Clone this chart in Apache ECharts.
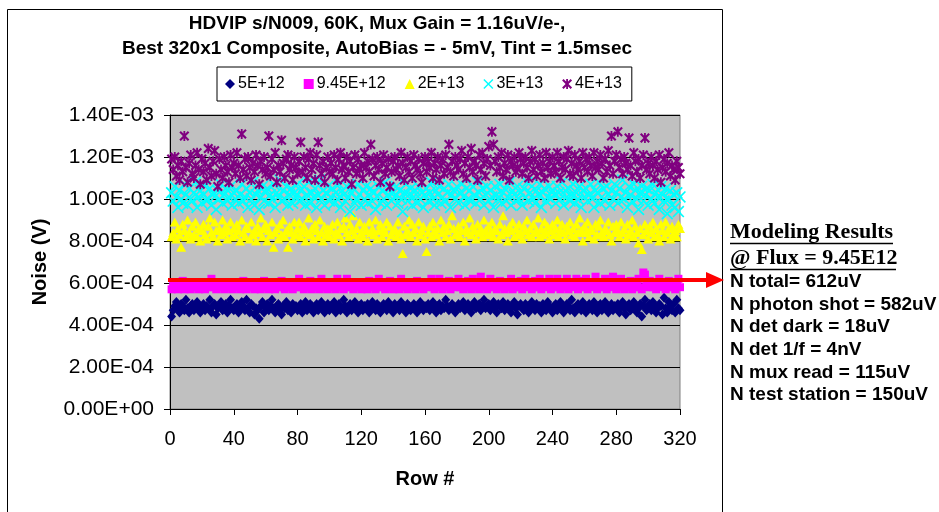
<!DOCTYPE html>
<html>
<head>
<meta charset="utf-8">
<script src="https://cdn.jsdelivr.net/npm/echarts@6.0.0/dist/echarts.min.js"></script>
<style>
    body { margin: 0; background: #fff; }
    #chart { width: 939px; height: 512px; }
</style>
</head>
<body>
<div id="chart"></div>
<script>
    // noise values in units of 1E-04 V, one per row (1..320)
    var noise5e12 = [
        4.4,4.7,4.9,5.1,4.8,4.6,5.0,4.9,4.7,5.2,4.8,4.6,4.9,5.0,4.7,4.8,5.1,4.9,4.6,4.8,
        5.0,4.7,4.9,4.8,5.2,4.6,4.9,5.0,4.5,4.8,4.9,5.1,4.7,4.8,5.0,4.6,4.9,5.2,4.8,4.7,
        4.9,5.0,4.6,4.8,5.1,4.9,4.7,5.2,4.8,4.6,5.0,4.9,4.5,4.8,4.7,4.3,4.9,5.1,4.6,4.8,
        5.0,4.7,4.9,5.2,4.8,4.6,4.9,5.0,4.7,4.5,4.9,4.8,5.1,4.7,4.9,4.6,5.0,4.8,4.9,4.7,
        4.8,5.0,4.6,4.9,5.1,4.7,4.8,5.0,4.9,4.6,4.8,5.0,4.7,4.9,5.1,4.8,4.6,4.9,5.0,4.7,
        4.9,4.8,5.1,4.6,4.9,5.0,4.7,4.8,5.2,4.9,4.6,4.8,5.0,4.7,4.9,5.1,4.8,4.6,4.9,5.0,
        4.7,4.9,4.8,5.0,4.6,4.9,5.1,4.8,4.7,5.0,4.9,4.6,4.8,5.0,4.9,4.7,5.1,4.8,4.9,4.6,
        5.0,4.8,4.9,4.7,5.1,4.9,4.8,4.6,5.0,4.9,4.7,4.8,5.0,4.9,4.6,4.8,5.1,4.9,4.7,4.9,
        4.8,5.0,4.7,4.9,5.1,4.8,4.6,4.9,5.0,4.7,4.9,4.8,5.2,4.9,4.7,4.8,5.0,4.9,4.6,4.8,
        5.0,4.8,4.9,5.1,4.7,4.9,5.0,4.8,4.6,4.9,5.1,4.8,4.9,5.0,4.7,4.9,5.2,4.8,4.9,5.0,
        4.7,4.9,5.1,4.8,4.6,5.0,4.9,4.8,5.1,4.7,4.9,5.0,4.8,4.6,4.9,5.1,4.8,4.5,4.9,5.0,
        4.8,4.7,5.0,4.9,4.6,4.8,5.1,4.9,4.7,5.0,4.8,4.9,4.6,5.0,4.8,4.7,5.1,4.9,4.8,4.6,
        4.9,5.0,4.7,4.8,5.1,4.9,4.6,4.8,5.0,4.9,4.7,5.2,4.8,4.6,4.9,5.0,4.8,4.7,5.1,4.9,
        4.6,4.8,5.0,4.9,4.7,5.1,4.8,4.6,4.9,5.0,4.7,4.8,5.1,4.9,4.6,4.8,5.0,4.7,4.9,4.8,
        5.0,4.6,4.9,5.1,4.8,4.5,4.9,5.0,4.7,4.8,5.1,4.9,4.6,4.8,5.0,4.4,4.9,5.2,4.7,4.8,
        5.0,4.7,5.1,4.9,4.6,4.8,5.0,4.9,4.5,5.3,4.8,4.6,5.1,4.9,4.7,5.0,4.6,5.2,4.8,4.7
    ];
    var noise945e12 = [
        5.7,5.9,5.8,6.0,5.7,5.9,5.8,6.1,5.7,5.9,6.0,5.8,5.7,5.9,6.0,5.8,5.9,5.7,6.0,5.8,
        5.9,5.7,6.0,5.8,5.9,6.2,5.8,6.0,5.7,5.9,5.8,6.0,5.9,5.7,5.8,6.0,5.9,5.8,5.7,6.0,
        5.8,5.9,6.0,5.7,5.8,6.1,5.9,5.7,5.8,6.0,5.9,5.8,5.7,5.9,6.0,5.8,5.7,5.9,6.1,5.8,
        5.9,5.7,6.0,5.8,5.9,5.7,6.0,5.8,5.9,6.1,5.8,5.7,5.9,6.0,5.8,5.9,5.7,6.0,5.8,5.9,
        6.2,5.8,5.9,5.7,6.0,5.8,5.9,6.1,5.7,5.8,6.0,5.9,5.8,5.7,6.2,5.9,5.8,6.0,5.7,5.9,
        5.8,6.0,5.9,5.7,6.2,5.8,6.0,5.9,5.7,5.8,6.2,5.9,5.8,6.0,5.7,5.9,5.8,6.0,5.9,5.7,
        6.0,5.8,5.9,5.7,6.1,5.8,5.9,6.0,5.7,5.8,6.2,5.9,5.8,6.0,5.7,5.9,5.8,6.1,5.9,5.7,
        5.8,6.0,5.9,5.7,6.2,5.8,6.0,5.9,5.7,5.8,6.0,5.9,5.8,5.7,6.1,5.9,5.8,6.0,5.7,5.9,
        5.8,6.0,5.9,6.2,5.8,5.7,6.0,5.9,6.2,5.8,5.7,6.0,5.9,5.8,6.1,5.7,5.9,6.0,5.8,5.9,
        6.2,5.8,5.9,5.7,6.0,5.8,6.1,5.9,5.7,6.2,5.8,6.0,5.9,5.7,6.3,5.8,5.9,6.0,5.7,5.8,
        6.2,5.9,5.8,6.0,5.7,5.9,6.1,5.8,5.9,5.7,6.0,5.8,5.9,6.2,5.7,5.8,6.0,5.9,5.8,6.1,
        5.7,5.9,6.2,5.8,6.0,5.9,5.7,5.8,6.1,5.9,5.8,6.2,5.7,5.9,6.0,5.8,5.9,6.2,5.7,5.8,
        6.0,5.9,6.2,5.8,5.7,6.0,5.9,5.8,6.2,5.7,5.9,6.0,5.8,5.9,6.2,5.7,5.8,6.1,5.9,5.8,
        6.2,5.7,5.9,6.0,5.8,5.9,6.3,5.7,5.8,6.0,5.9,5.8,6.2,5.7,5.9,6.0,5.8,6.3,5.9,5.7,
        6.0,5.8,6.2,5.9,5.7,6.0,5.8,5.9,6.1,5.7,5.8,6.0,5.9,6.2,5.8,5.7,6.5,6.4,5.9,5.8,
        6.1,5.9,5.8,6.0,5.7,5.9,6.2,5.8,6.0,5.9,5.7,5.8,6.1,5.9,5.8,6.0,5.7,5.9,6.2,5.8
    ];
    var noise2e13 = [
        8.2,8.4,8.9,8.1,8.6,8.3,7.7,8.8,8.5,8.2,9.0,8.4,8.1,8.7,8.3,8.9,8.2,8.6,8.0,8.5,
        8.8,8.3,8.1,8.7,9.1,8.4,8.2,8.9,8.5,8.0,8.6,8.3,9.0,8.4,8.7,8.1,8.5,8.9,8.2,8.6,
        8.3,8.8,8.5,8.0,9.0,8.4,8.2,8.7,8.6,8.1,8.9,8.3,8.5,8.0,8.7,8.4,9.1,8.2,8.6,8.8,
        8.0,8.5,8.3,8.9,7.7,8.4,8.6,8.1,8.8,8.3,9.0,8.2,8.5,7.7,8.7,8.4,8.1,8.9,8.3,8.6,
        8.9,8.2,8.5,8.7,8.0,8.4,9.1,8.3,8.6,8.1,8.8,8.5,8.2,9.0,8.4,8.0,8.7,8.3,8.6,8.2,
        8.5,8.8,8.1,8.4,8.9,8.3,8.6,8.0,8.7,9.1,8.4,8.2,8.8,8.5,9.2,8.3,8.6,8.1,8.9,8.4,
        8.2,8.7,8.5,8.0,8.9,8.4,8.6,8.3,9.0,8.1,8.5,8.8,8.2,8.6,8.4,8.9,8.0,8.7,8.3,8.5,
        8.6,8.2,8.9,8.4,8.1,7.4,8.7,8.3,8.5,9.0,8.2,8.8,8.4,8.6,8.0,8.9,8.3,8.5,8.7,8.1,
        7.5,8.4,8.7,8.2,8.9,8.5,8.3,8.6,8.0,9.0,8.4,8.7,8.2,8.5,8.8,8.1,9.2,8.6,8.3,8.4,
        8.7,8.2,8.5,8.9,8.0,8.6,8.4,9.1,8.3,8.7,8.5,8.1,8.8,8.4,8.6,8.2,9.0,8.5,8.3,8.7,
        8.4,8.9,8.2,8.6,8.5,8.1,8.8,8.3,9.2,8.6,8.4,8.0,8.7,8.5,8.9,8.2,8.6,8.3,8.8,8.4,
        8.1,8.7,8.5,9.0,8.3,8.6,8.2,8.8,8.4,8.5,9.1,8.2,8.6,8.3,8.9,8.4,8.7,8.1,8.5,8.8,
        8.3,8.6,9.0,8.2,8.5,8.8,8.4,8.1,8.7,8.5,8.9,8.3,8.6,8.2,8.8,8.4,9.1,8.5,8.0,8.7,
        8.4,8.9,8.2,8.6,8.5,8.1,8.8,8.3,8.7,9.0,8.4,8.2,8.6,8.5,8.9,8.3,8.0,8.7,8.4,8.8,
        8.5,8.2,8.9,8.4,8.6,8.1,8.8,8.3,8.5,9.0,8.2,8.7,8.4,7.9,8.6,7.6,8.3,8.8,8.5,8.1,
        8.7,8.4,8.9,8.2,8.6,8.3,8.0,8.8,8.5,8.2,8.9,8.4,8.6,8.1,8.7,8.3,8.5,8.2,8.8,8.6
    ];
    var noise3e13 = [
        10.3,9.9,10.6,10.1,9.6,10.4,10.0,9.8,10.7,10.2,9.7,10.5,10.0,9.9,10.3,10.8,9.6,10.1,10.4,9.8,
        10.2,10.6,9.9,10.0,10.5,9.7,10.3,10.1,9.5,10.4,10.0,10.7,9.8,10.2,10.5,9.9,10.1,10.6,9.7,10.3,
        10.0,10.4,9.8,10.2,10.7,9.9,10.1,10.5,9.6,10.3,10.0,10.8,9.7,10.2,10.4,9.5,10.1,10.6,9.9,10.3,
        10.5,9.8,10.2,10.0,10.7,9.6,10.3,10.1,10.9,9.9,10.4,10.0,10.6,9.7,10.2,10.5,9.8,10.3,10.1,10.7,
        9.9,10.4,10.0,10.6,9.7,10.2,10.8,9.8,10.3,10.1,10.5,9.6,10.2,10.9,10.0,10.4,9.7,10.3,10.6,9.9,
        10.1,10.5,9.8,10.3,10.0,10.7,9.6,10.4,10.2,9.9,10.6,10.1,9.4,10.3,10.5,9.8,10.0,10.7,10.2,9.7,
        10.4,10.0,10.6,9.8,10.2,10.5,9.9,10.3,9.5,10.1,10.6,9.8,10.4,10.0,10.8,9.7,10.2,10.5,9.9,10.3,
        10.1,10.6,9.8,10.4,10.0,9.4,10.3,10.7,9.9,10.2,10.5,9.7,10.1,10.4,9.8,10.6,10.0,10.3,9.6,10.2,
        10.5,9.9,10.3,10.8,10.0,9.7,10.4,10.2,10.6,9.8,10.1,10.5,9.9,10.3,10.7,9.6,10.2,10.4,10.0,10.6,
        9.8,10.3,10.7,10.1,9.7,10.5,10.0,10.4,9.9,10.6,10.2,9.8,10.8,10.3,10.0,10.5,9.7,10.2,10.6,9.9,
        10.4,10.1,9.6,10.6,10.2,10.0,10.7,9.8,10.3,10.5,9.9,10.1,10.8,9.7,10.4,10.2,9.9,10.6,10.0,10.3,
        9.7,10.5,10.1,10.8,9.9,10.3,10.6,10.0,9.8,10.4,10.2,10.7,9.6,10.3,10.5,9.9,10.1,10.6,10.0,10.4,
        10.2,9.8,10.6,10.3,10.0,10.8,9.7,10.4,10.1,10.5,9.9,10.2,10.7,9.8,10.3,10.0,10.6,9.6,10.4,10.1,
        10.5,9.9,10.2,10.7,10.0,9.6,10.4,10.3,10.8,9.8,10.1,10.5,9.9,10.6,10.2,9.7,10.4,10.0,10.7,10.3,
        9.8,10.5,10.1,10.9,10.0,10.3,9.6,10.6,10.2,9.9,10.7,10.4,10.0,9.5,10.3,10.6,9.9,10.2,10.5,9.7,
        10.4,10.0,10.7,9.8,10.3,10.1,9.5,10.6,10.2,9.9,10.5,9.3,10.0,10.4,9.7,10.2,9.6,10.3,9.4,10.1
    ];
    var noise4e13 = [
        11.9,11.4,12.0,11.1,11.6,10.9,11.8,11.3,13.0,11.5,10.8,11.7,12.1,11.2,11.0,11.6,12.2,11.4,10.7,11.9,
        11.3,11.7,10.9,12.4,11.5,11.1,11.8,12.3,11.2,10.6,11.9,11.4,11.0,12.0,11.6,11.3,10.8,12.1,11.5,11.7,
        11.2,12.2,11.6,11.0,13.1,11.4,11.9,11.1,12.0,11.5,10.9,11.7,11.3,12.1,11.6,10.7,11.8,11.4,12.0,11.2,
        11.5,13.0,11.1,11.9,11.4,12.2,10.8,11.6,11.3,12.8,11.7,11.0,11.9,12.1,11.4,11.6,10.9,12.0,11.5,11.2,
        11.8,12.7,11.3,12.0,11.5,11.0,11.9,12.2,11.4,11.7,10.9,12.1,12.7,11.6,11.2,11.8,10.8,11.5,12.0,11.3,
        11.7,11.2,12.1,11.5,10.9,11.9,12.2,11.4,11.6,11.0,12.0,11.3,11.8,10.7,11.5,12.1,11.2,11.9,11.4,11.6,
        11.0,12.2,11.5,11.8,11.3,12.6,11.9,11.1,11.6,12.0,11.4,10.8,11.7,12.1,11.2,11.5,11.9,10.6,11.3,11.8,
        12.0,11.4,11.6,11.1,12.2,11.7,10.9,11.5,12.0,11.3,11.8,11.0,12.1,11.6,11.4,11.9,11.2,10.8,11.7,12.0,
        11.3,11.8,11.5,12.2,11.0,11.7,11.4,12.0,10.9,11.6,11.9,11.2,12.1,11.5,12.6,11.3,11.8,11.1,12.0,11.6,
        11.4,11.9,12.3,11.2,11.7,11.0,12.0,11.5,12.4,11.3,11.8,11.6,10.9,12.1,11.4,12.2,11.7,11.1,11.9,12.5,
        11.6,13.2,12.6,11.8,11.3,12.0,11.5,12.2,11.1,11.7,11.4,12.1,10.9,11.8,11.6,12.0,11.3,11.5,12.2,11.9,
        11.2,11.7,12.0,11.5,11.0,11.8,12.3,11.4,11.9,11.1,11.6,12.1,11.3,11.7,11.0,12.2,11.5,11.8,11.2,12.0,
        11.6,11.3,12.2,11.8,11.0,11.5,12.0,11.4,11.9,12.3,11.2,11.7,11.1,12.1,11.6,11.4,11.8,11.0,12.2,11.5,
        11.9,11.3,12.0,11.6,11.1,12.2,11.5,11.8,11.4,12.1,11.7,11.0,11.9,11.3,12.3,11.6,13.0,11.2,11.8,12.1,
        13.2,11.5,11.9,11.2,12.0,11.7,11.4,12.9,11.6,11.1,12.2,11.8,11.3,11.9,11.0,11.6,12.1,12.9,11.4,11.7,
        11.2,12.0,11.6,11.0,11.8,11.4,12.1,10.8,11.5,11.9,11.3,11.7,12.2,11.1,11.6,11.4,10.9,11.8,11.5,11.2
    ];
    var seriesNames = ['5E+12', '9.45E+12', '2E+13', '3E+13', '4E+13'];
    var xTicks = [0, 40, 80, 120, 160, 200, 240, 280, 320];
    var yTicks = [0, 2, 4, 6, 8, 10, 12, 14];
    var nTotal = 6.12; // 612uV, where the arrow points
    var modelLines = [
        'N total= 612uV',
        'N photon shot = 582uV',
        'N det dark = 18uV',
        'N det 1/f = 4nV',
        'N mux read = 115uV',
        'N test station = 150uV'
    ];

    function pairs(arr) {
        return arr.map(function (v, i) { return [i + 1, v]; });
    }
    function sci(v) {
        if (v === 0) return '0.00E+00';
        if (v >= 10) return (v / 10).toFixed(2) + 'E-03';
        return v.toFixed(2) + 'E-04';
    }

    var X_PATH = 'path://M0,1L1,0L5,4L9,0L10,1L6,5L10,9L9,10L5,6L1,10L0,9L4,5Z';
    var STAR_PATH = 'path://M0,1.5L1.5,0L5,3.5L8.5,0L10,1.5L6.5,5L10,8.5L8.5,10L5,6.5L1.5,10L0,8.5L3.5,5Z' +
        'M4.1,0L5.9,0L5.9,10L4.1,10Z';

    var styles = [
        { symbol: 'diamond', size: [9, 10], color: '#000080' },
        { symbol: 'rect', size: 8, color: '#ff00ff' },
        { symbol: 'triangle', size: [10, 9], color: '#ffff00' },
        { symbol: X_PATH, size: 12, color: '#00ffff' },
        { symbol: STAR_PATH, size: 10, color: '#800080' }
    ];
    var values = [noise5e12, noise945e12, noise2e13, noise3e13, noise4e13];

    var font = 'Arial, "Liberation Sans", sans-serif';
    var myChart = echarts.init(document.getElementById('chart'));

    option = {
        animation: false,
        backgroundColor: '#fff',
        title: {
            text: 'HDVIP s/N009, 60K, Mux Gain = 1.16uV/e-,\nBest 320x1 Composite, AutoBias = - 5mV, Tint = 1.5msec',
            left: 372,
            top: 6,
            textAlign: 'center',
            textStyle: { fontFamily: font, fontWeight: 'bold', fontSize: 19, lineHeight: 25, color: '#000' }
        },
        legend: {
            data: seriesNames,
            left: 217,
            top: 67,
            padding: [9, 10, 9, 8],
            itemWidth: 10,
            itemHeight: 10,
            itemGap: 19,
            borderColor: '#000',
            borderWidth: 1,
            backgroundColor: '#fff',
            textStyle: { fontFamily: font, fontSize: 16, color: '#000', padding: [0, 0, 0, -2] }
        },
        grid: {
            left: 170,
            right: 259,
            top: 115,
            bottom: 103,
            show: true,
            backgroundColor: '#c0c0c0',
            borderColor: '#808080',
            borderWidth: 1
        },
        xAxis: {
            type: 'value',
            min: xTicks[0],
            max: xTicks[xTicks.length - 1],
            interval: 40,
            name: 'Row #',
            nameLocation: 'middle',
            nameGap: 60,
            nameTextStyle: { fontFamily: font, fontWeight: 'bold', fontSize: 20, color: '#000' },
            axisLine: { lineStyle: { color: '#000', width: 1 } },
            axisTick: { length: 6, lineStyle: { color: '#000' } },
            axisLabel: { fontFamily: font, fontSize: 20, color: '#000', margin: 20 },
            splitLine: { show: false }
        },
        yAxis: {
            type: 'value',
            min: yTicks[0],
            max: yTicks[yTicks.length - 1],
            interval: 2,
            name: 'Noise (V)',
            nameLocation: 'middle',
            nameGap: 120,
            nameTextStyle: { fontFamily: font, fontWeight: 'bold', fontSize: 20, color: '#000' },
            axisLine: { show: true, lineStyle: { color: '#000', width: 1 } },
            axisTick: { show: true, length: 6, lineStyle: { color: '#000' } },
            axisLabel: { fontFamily: font, fontSize: 21, color: '#000', margin: 16, formatter: sci },
            splitLine: { show: true, lineStyle: { color: '#000', width: 1 } }
        },
        series: values.map(function (vals, k) {
            return {
                name: seriesNames[k],
                type: 'scatter',
                data: pairs(vals),
                symbol: styles[k].symbol,
                symbolSize: styles[k].size,
                itemStyle: { color: styles[k].color, opacity: 1 }
            };
        })
    };

    myChart.setOption(option);

    // arrow and modeling notes on the right
    var p0 = myChart.convertToPixel({ gridIndex: 0 }, [0, nTotal]);
    var ay = Math.round(p0[1]);
    var serif = '"Times New Roman", "Liberation Serif", serif';
    var graphics = [
        {
            type: 'rect', silent: true,
            shape: { x: 7.5, y: 9.5, width: 715, height: 520 },
            style: { fill: null, stroke: '#000', lineWidth: 1 }
        },
        {
            type: 'line', silent: true, z: 100,
            shape: { x1: p0[0] - 2, y1: ay, x2: 710, y2: ay },
            style: { stroke: '#ff0000', lineWidth: 4 }
        },
        {
            type: 'polygon', silent: true, z: 100,
            shape: { points: [[706, ay - 8], [724, ay], [706, ay + 8]] },
            style: { fill: '#ff0000' }
        },
        {
            type: 'text', silent: true,
            style: { text: 'Modeling Results', x: 730, y: 232, verticalAlign: 'middle',
                fontFamily: serif, fontWeight: 'bold', fontSize: 22, fill: '#000' }
        },
        {
            type: 'line', silent: true,
            shape: { x1: 730, y1: 243.5, x2: 893, y2: 243.5 },
            style: { stroke: '#000', lineWidth: 1.5 }
        },
        {
            type: 'text', silent: true,
            style: { text: '@ Flux = 9.45E12', x: 730, y: 258, verticalAlign: 'middle',
                fontFamily: serif, fontWeight: 'bold', fontSize: 22, fill: '#000' }
        },
        {
            type: 'line', silent: true,
            shape: { x1: 730, y1: 269.5, x2: 896, y2: 269.5 },
            style: { stroke: '#000', lineWidth: 1.5 }
        }
    ];
    modelLines.forEach(function (t, i) {
        graphics.push({
            type: 'text', silent: true,
            style: { text: t, x: 730, y: 282 + i * 22.6, verticalAlign: 'middle',
                fontFamily: font, fontWeight: 'bold', fontSize: 19, fill: '#000' }
        });
    });
    myChart.setOption({ graphic: graphics });
</script>
</body>
</html>
